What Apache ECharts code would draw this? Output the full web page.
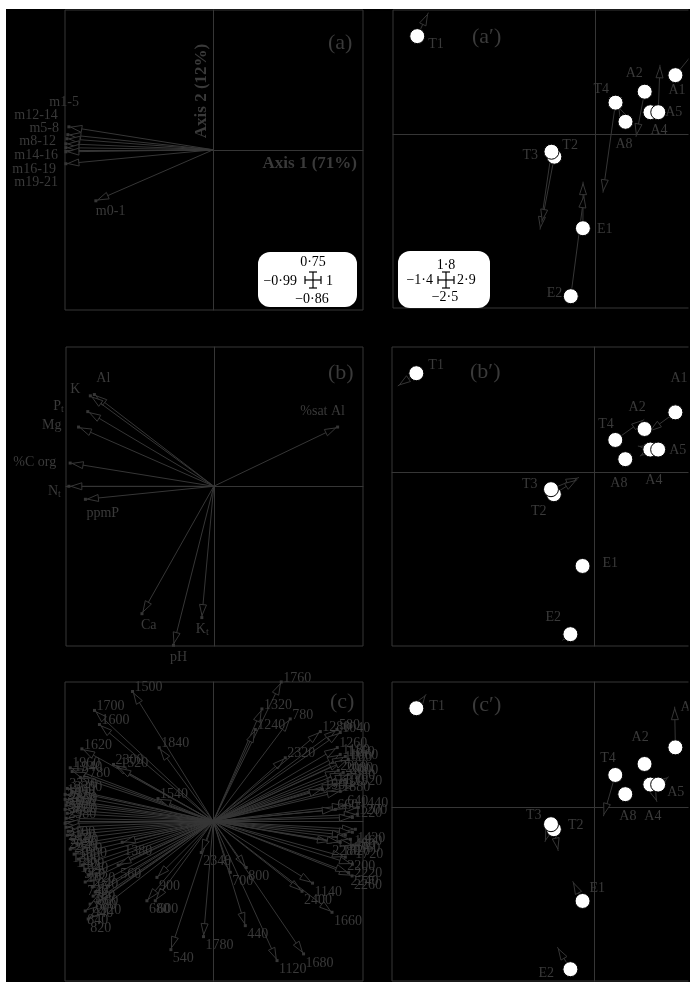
<!DOCTYPE html>
<html><head><meta charset="utf-8">
<script src="https://cdn.jsdelivr.net/npm/echarts@6/dist/echarts.min.js"></script>
<style>html,body{margin:0;padding:0;background:#fff}#c{width:690px;height:982px}</style>
</head><body><div id="c"></div>
<script>
// ---------- DATA ----------
// (a) loadings of size classes
const sizeLabels = ['m1-5','m12-14','m5-8','m8-12','m14-16','m16-19','m19-21','m0-1'];
const sizeX = [-0.964,-0.971,-0.977,-0.984,-0.984,-0.984,-0.984,-0.784];
const sizeY = [0.123,0.081,0.059,0.032,0.011,-0.011,-0.075,-0.274];

// (b) soil variables
const soilLabels = ['%sat Al','Al','K','P_t','Mg','%C org','N_t','ppmP','Ca','pH','K_t'];
const soilX = [0.830,-0.800,-0.827,-0.844,-0.906,-0.962,-0.971,-0.860,-0.481,-0.270,-0.080];
const soilY = [0.319,0.494,0.487,0.402,0.319,0.125,0.000,-0.070,-0.686,-0.856,-0.707];

// (c) spectral bands
const bandLabels = ['1760','1500','1700','1600','1320','780','1240','1840','1620','2300','1520','1960','1940','2780','3320','3300','1540','900','680','600','540','1780','2340','700','800','440','1120','1680','1140','2400','1660','2280','2260','2240','580','2320',
 '1280','1040','1260','1180','1160','1080','1060','2060','2080','2000','1980','1100','1920','1900','1880','640','1440','660','1200','1220','1420','1460','1480','1360','1720','1820','2200','2220',
 '1860','2920','2850','3000','3400','3060','2980','2100','2120','2140','2020','2500','1000','1300','1400','1340','960','1020','1640','740','760','860','880','920','940','840','820','1380','560'];
const bandX = [0.454,-0.539,-0.793,-0.760,0.325,0.514,0.281,-0.361,-0.877,-0.666,-0.635,-0.955,-0.942,-0.888,-0.975,-0.942,-0.369,-0.376,-0.443,-0.387,-0.283,-0.065,-0.080,0.114,0.220,0.214,0.426,0.603,0.663,0.593,0.793,0.782,0.927,0.904,0.826,0.481,
 0.715,0.848,0.828,0.848,0.882,0.862,0.902,0.835,0.868,0.902,0.882,0.815,0.929,0.728,0.848,0.882,0.969,0.815,0.962,0.929,0.949,0.929,0.882,0.915,0.935,0.848,0.882,0.929,
 -0.989,-0.989,-0.975,-0.982,-0.989,-0.975,-0.982,-0.989,-0.982,-0.969,-0.975,-0.942,-0.910,-0.955,-0.929,-0.902,-0.875,-0.855,-0.835,-0.855,-0.808,-0.788,-0.802,-0.768,-0.822,-0.855,-0.835,-0.608,-0.635];
const bandY = [0.750,0.699,0.597,0.521,0.605,0.551,0.494,0.396,0.390,0.306,0.290,0.288,0.268,0.236,0.177,0.161,0.122,-0.302,-0.428,-0.428,-0.691,-0.621,-0.168,-0.275,-0.249,-0.562,-0.750,-0.714,-0.333,-0.377,-0.490,-0.111,-0.294,-0.276,0.494,0.342,
 0.483,0.478,0.397,0.360,0.349,0.322,0.333,0.274,0.263,0.252,0.225,0.199,0.193,0.172,0.161,0.086,0.075,0.064,0.038,0.021,-0.043,-0.059,-0.075,-0.097,-0.129,-0.113,-0.193,-0.231,
 0.145,0.118,0.102,0.086,0.064,0.043,0.016,-0.011,-0.032,-0.054,-0.075,-0.097,-0.123,-0.150,-0.177,-0.204,-0.236,-0.258,-0.290,-0.327,-0.354,-0.381,-0.403,-0.429,-0.446,-0.483,-0.526,-0.113,-0.236];

// site scores (same ordination in a', b', c')
const sites = ['T1','A1','A2','T4','A4','A5','A8','T2','T3','E1','E2'];
const siteX = [-1.232,0.557,0.344,0.142,0.384,0.438,0.211,-0.282,-0.302,-0.084,-0.168];
const siteY = [1.423,0.860,0.621,0.463,0.325,0.325,0.187,-0.317,-0.245,-1.349,-2.330];

// projected shifts (arrow heads) per panel
const shiftSitesA = ['T1','A1','A5','A2','T4','A8','T3','T2','E1','E2'];
const shiftXA = [-1.155,0.728,0.450,0.284,0.055,0.159,-0.381,-0.369,-0.083,-0.076];
const shiftYA = [1.762,1.297,1.009,-0.029,-0.836,0.418,-1.369,-1.264,-0.677,-0.865];
const shiftSitesB = ['T1','T4','A1','A5','A4','T3','T2','E2'];
const shiftXB = [-1.360,0.342,0.374,0.298,0.312,-0.109,-0.120,-0.224];
const shiftYB = [1.239,0.759,0.581,0.375,0.231,-0.076,-0.105,-2.421];
const shiftSitesC = ['T1','A1','T4','A5','A4','T3','T2','E1','E2'];
const shiftXC = [-1.164,0.552,0.060,0.511,0.430,-0.344,-0.252,-0.152,-0.258];
const shiftYC = [1.624,1.445,-0.130,0.437,0.076,-0.500,-0.630,-1.066,-2.013];

// axis extents (inset keys; primed panels are cropped on the right at x = 0.658)
const loadRange = {xmin:-0.99, xmax:1, ymin:-0.86, ymax:0.75};
const siteRange = {xmin:-1.4, xmax:0.658, ymin:-2.5, ymax:1.8};

// ---------- LAYOUT / STYLE ----------
const LINE = '#363636', TXT = '#3a3a3a', FONT = 'Liberation Serif';
const sizeLabOff = [[10,-25,'right'],[-10,-19,'right'],[-8,-10,'right'],[-10,-2,'right'],[-8,8,'right'],[-10,18,'right'],[-8,19,'right'],[0,11,'left']];
const soilLabOff = [[-15,-16,'center'],[2,-16,'left'],[-10,-7,'right'],[-24,-5,'right'],[-17,-2,'right'],[-14,-1,'right'],[-8,5,'right'],[1,14,'left'],[-1,12,'left'],[5,12,'center'],[-6,12,'left']];
const siteLabOff = [
  [[11,8],[-7,15],[-19,-18],[-22,-13],[0,18],[7,0],[-10,23],[8,-11],[-29,4],[14,1],[-24,-3]],
  [[12,-8],[-5,-34],[-16,-22],[-17,-16],[-5,31],[11,1],[-15,24],[-23,17],[-29,-5],[20,-3],[-25,-17]],
  [[13,-2],[5,-40],[-13,-27],[-15,-17],[-6,32],[9,8],[-6,22],[14,-4],[-25,-9],[7,-13],[-32,4]]
];

const gridsPx = [
  {left:65, top:10, width:298, height:300},
  {left:393, top:10, width:297, height:298},
  {left:66, top:347, width:297, height:299},
  {left:392, top:347, width:298, height:299},
  {left:65, top:682, width:298, height:299},
  {left:392, top:682, width:298, height:299}
];

function txt(text, x, y, align, size, extra) {
  const s = Object.assign({text, x, y, align, textAlign: align, verticalAlign:'middle', textVerticalAlign:'middle',
    font: (size||14) + 'px "' + FONT + '"', fill: TXT}, extra||{});
  return {type:'text', style:s, z2:5};
}

function labelEl(text, x, y, align) {
  const parts = text.split('_');
  if (parts.length === 1) return txt(text, x, y, align, 14);
  return {type:'text', z2:5, style:{
    text:'{m|' + parts[0] + '}{s|' + parts[1] + '}', x, y, align, textAlign:align,
    verticalAlign:'middle', textVerticalAlign:'middle', fill:TXT, font:'14px "' + FONT + '"',
    rich:{m:{fontFamily:FONT, fontSize:14, lineHeight:16, fill:TXT, color:TXT},
          s:{fontFamily:FONT, fontSize:10, lineHeight:4, verticalAlign:'bottom', fill:TXT, color:TXT}}}};
}

function arrowEls(p0, p1) {
  const dx = p1[0]-p0[0], dy = p1[1]-p0[1];
  const L = Math.hypot(dx, dy) || 1;
  const ux = dx/L, uy = dy/L;
  const hl = Math.min(11, L*0.6), hw = 3.5;
  const tip = [p1[0]-ux*2, p1[1]-uy*2];
  const b = [tip[0]-ux*hl, tip[1]-uy*hl];
  return [
    {type:'line', shape:{x1:p0[0], y1:p0[1], x2:p1[0], y2:p1[1]}, style:{stroke:LINE, lineWidth:1}},
    {type:'polygon', shape:{points:[tip,[b[0]-uy*hw, b[1]+ux*hw],[b[0]+uy*hw, b[1]-ux*hw]]},
      style:{fill:'#000', stroke:LINE, lineWidth:1}},
    {type:'rect', shape:{x:p1[0]-1.5, y:p1[1]-1.5, width:3, height:3}, style:{fill:LINE}}
  ];
}

function vectorSeries(gi, xs, ys, labelFn) {
  return {
    type:'custom', coordinateSystem:'cartesian2d', xAxisIndex:gi, yAxisIndex:gi, clip:false, z:2, silent:true,
    data: xs.map((x,i)=>[x, ys[i]]),
    renderItem: function(params, api) {
      const i = params.dataIndex;
      const p0 = api.coord([0,0]);
      const p1 = api.coord([api.value(0), api.value(1)]);
      const lab = labelFn(i, p1);
      const ch = arrowEls(p0, p1);
      ch.push(labelEl(lab.text, lab.x, lab.y, lab.align));
      return {type:'group', children: ch};
    }
  };
}

function shiftSeries(gi, names, xs, ys) {
  return {
    type:'custom', coordinateSystem:'cartesian2d', xAxisIndex:gi, yAxisIndex:gi, clip:false, z:2, silent:true,
    data: names.map((n,i)=>{ const k = sites.indexOf(n); return [siteX[k], siteY[k], xs[i], ys[i]]; }),
    renderItem: function(params, api) {
      const p0 = api.coord([api.value(0), api.value(1)]);
      const p1 = api.coord([api.value(2), api.value(3)]);
      return {type:'group', children: arrowEls(p0, p1).slice(0,2)};
    }
  };
}

function siteSeries(gi) {
  return {type:'scatter', xAxisIndex:gi, yAxisIndex:gi, silent:true, z:3, symbolSize:15,
    data: siteX.map((x,i)=>[x, siteY[i]]),
    itemStyle:{color:'#fff', borderColor:'#000', borderWidth:1, opacity:1}};
}

function siteLabelSeries(gi, pi) {
  return {type:'custom', coordinateSystem:'cartesian2d', xAxisIndex:gi, yAxisIndex:gi, clip:false, z:4, silent:true,
    data: siteX.map((x,i)=>[x, siteY[i]]),
    renderItem: function(params, api) {
      const i = params.dataIndex;
      const p = api.coord([api.value(0), api.value(1)]);
      const o = siteLabOff[pi][i];
      return txt(sites[i], p[0]+o[0], p[1]+o[1], 'left', 14);
    }};
}

const grid = gridsPx.map(g => Object.assign({show:true, borderColor:LINE, borderWidth:1, backgroundColor:'transparent', containLabel:false}, g));
const axisCommon = {type:'value', axisTick:{show:false}, axisLabel:{show:false}, splitLine:{show:false},
  axisLine:{show:true, onZero:true, lineStyle:{color:LINE, width:1}}};
const xAxis = [], yAxis = [];
for (let i = 0; i < 6; i++) {
  const r = (i % 2 === 0) ? loadRange : siteRange;
  xAxis.push(Object.assign({gridIndex:i, min:r.xmin, max:r.xmax}, axisCommon));
  yAxis.push(Object.assign({gridIndex:i, min:r.ymin, max:r.ymax}, axisCommon));
}

const series = [
  vectorSeries(0, sizeX, sizeY, (i,p)=>({text:sizeLabels[i], x:p[0]+sizeLabOff[i][0], y:p[1]+sizeLabOff[i][1], align:sizeLabOff[i][2]})),
  vectorSeries(2, soilX, soilY, (i,p)=>({text:soilLabels[i], x:p[0]+soilLabOff[i][0], y:p[1]+soilLabOff[i][1], align:soilLabOff[i][2]})),
  vectorSeries(4, bandX, bandY, (i,p)=>({text:bandLabels[i], x:p[0]+2, y:p[1]+(bandY[i]>0?-4:9), align:'left'})),
  shiftSeries(1, shiftSitesA, shiftXA, shiftYA),
  shiftSeries(3, shiftSitesB, shiftXB, shiftYB),
  shiftSeries(5, shiftSitesC, shiftXC, shiftYC),
  siteSeries(1), siteSeries(3), siteSeries(5),
  siteLabelSeries(1,0), siteLabelSeries(3,1), siteLabelSeries(5,2)
];

function crossKey(cx, cy) {
  const s = {stroke:'#000', lineWidth:1.2};
  const L = (x1,y1,x2,y2)=>({type:'line', shape:{x1,y1,x2,y2}, style:s, z:60});
  return [L(cx-8,cy,cx+8,cy), L(cx-8,cy-4,cx-8,cy+4), L(cx+8,cy-4,cx+8,cy+4),
          L(cx,cy-8,cx,cy+8), L(cx-4,cy-8,cx+4,cy-8), L(cx-4,cy+8,cx+4,cy+8)];
}
function kt(text, x, y, align) {
  return {type:'text', z:60, style:{text, x, y, align, textAlign:align, verticalAlign:'middle', textVerticalAlign:'middle',
    font:'14px "' + FONT + '"', fill:'#000'}};
}
const panelFont = '22px "' + FONT + '"';
function pl(text, x, y) {
  return {type:'text', z:50, style:{text, x, y, align:'left', textAlign:'left', verticalAlign:'middle', textVerticalAlign:'middle', font:panelFont, fill:TXT}};
}

const graphic = [
  pl('(a)', 328, 43), pl('(a\u2032)', 472, 37), pl('(b)', 328, 373), pl('(b\u2032)', 470, 372), pl('(c)', 330, 702), pl('(c\u2032)', 472, 705),
  {type:'text', z:50, style:{text:'Axis 1 (71%)', x:357, y:164, align:'right', textAlign:'right', verticalAlign:'middle', textVerticalAlign:'middle', font:'bold 17px "' + FONT + '"', fill:TXT}},
  {type:'text', z:50, x:202, y:91, rotation:Math.PI/2, style:{text:'Axis 2 (12%)', x:0, y:0, align:'center', textAlign:'center', verticalAlign:'middle', textVerticalAlign:'middle', font:'bold 17px "' + FONT + '"', fill:TXT}},
  {type:'rect', z:55, shape:{x:258, y:252, width:99, height:55, r:12}, style:{fill:'#fff'}},
  kt('0\u00b775', 313, 262, 'center'), kt('\u22120\u00b799', 297, 281, 'right'), kt('1', 326, 281, 'left'), kt('\u22120\u00b786', 312, 299, 'center'),
  ...crossKey(313, 280),
  {type:'rect', z:55, shape:{x:398, y:251, width:92, height:57, r:12}, style:{fill:'#fff'}},
  kt('1\u00b78', 446, 265, 'center'), kt('\u22121\u00b74', 433, 280, 'right'), kt('2\u00b79', 457, 280, 'left'), kt('\u22122\u00b75', 445, 297, 'center'),
  ...crossKey(446, 280),
  {type:'rect', z:100, shape:{x:688.5, y:0, width:2, height:982}, style:{fill:'#000'}},
  {type:'rect', z:100, shape:{x:0, y:0, width:690, height:9}, style:{fill:'#fff'}},
  {type:'rect', z:100, shape:{x:0, y:0, width:6, height:982}, style:{fill:'#fff'}}
];

const chart = echarts.init(document.getElementById('c'), null, {renderer:'canvas'});
chart.setOption({backgroundColor:'#000', animation:false, grid, xAxis, yAxis, series, graphic});
</script></body></html>
